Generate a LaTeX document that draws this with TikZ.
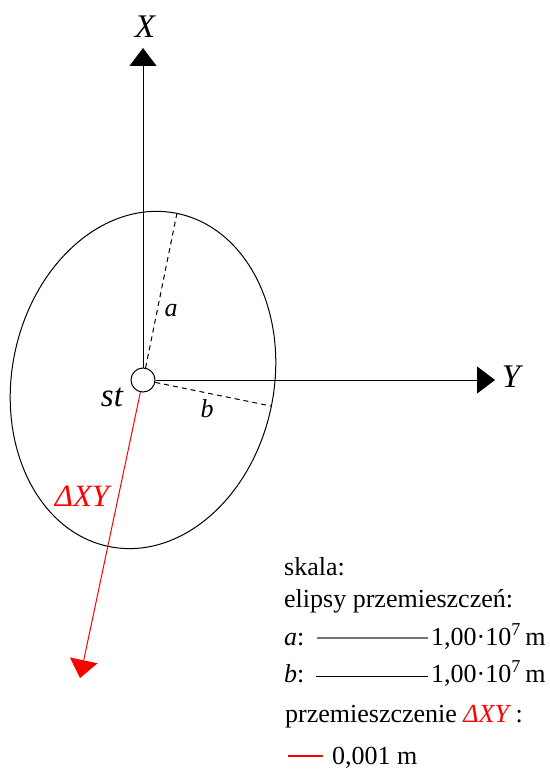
\documentclass[tikz,border=0pt]{standalone}
\usepackage{fontspec}
\setmainfont{Liberation Serif}
\usetikzlibrary{arrows.meta,calc}
\begin{document}
\begin{tikzpicture}[x=1pt,y=1pt,
  axis/.style={line width=1pt,-{Triangle[length=18pt,width=27pt]}},
  dispvec/.style={red,line width=1pt,-{Triangle[length=18pt,width=28pt]}},
  semiax/.style={line width=1pt,dash pattern=on 5pt off 4pt},
  lbl/.style={font=\fontsize{33}{38}\selectfont\itshape,inner sep=0pt},
  small/.style={font=\fontsize{26}{31}\selectfont,inner sep=0pt,anchor=base west},
  smalli/.style={font=\fontsize{26}{31}\selectfont\itshape,inner sep=0pt}]
\useasboundingbox (0,0) rectangle (549,-776);
\coordinate (c) at (143,-380);
% ellipse
\draw[line width=1pt,rotate around={-11.5:(c)}] (c) ellipse [x radius=131, y radius=170];
% station
\node[circle,draw,fill=white,line width=1pt,minimum size=24pt,inner sep=0pt] (st) at (c) {};
% axes
\coordinate (xtip) at (143,-48);
\coordinate (ytip) at (495,-380);
\draw[axis] (st.north) -- (xtip);
\draw[axis] (st.east) -- (ytip);
\node[lbl] (X) at (145,-27) {X};
\node[lbl] (Y) at (511,-377) {Y};
\node[lbl] (stl) at (112,-397) {st};
% semi-axes
\coordinate (ea) at ($(c)+(78.5:170)$);
\coordinate (eb) at ($(c)+(-11.5:131)$);
\draw[semiax] (st.78.5) -- (ea);
\draw[semiax] (st.-11.5) -- (eb);
\node[smalli] (al) at (171,-311) {a};
\node[smalli] (bl) at (207,-409) {b};
% displacement
\coordinate (dtip) at (80,-678);
\draw[dispvec] (st.-102) -- (dtip);
\node[lbl,red,font=\fontsize{31}{36}\selectfont\itshape] (dl) at (82,-496) {ΔXY};
% legend
\node[small] (s1) at (284,-575) {skala:};
\node[small] (s2) at (284,-607) {elipsy przemieszczeń:};
\node[small,font=\fontsize{26}{31}\selectfont\itshape] (sa) at (284,-645) {a\upshape:};
\coordinate (la1) at (317,-638);
\coordinate (la2) at (428,-638);
\draw[gray!90!black,line width=1.6pt] (la1) -- (la2);
\node[small] (va) at (431,-645) {1,00·10\textsuperscript{7}\,m};
\node[small,font=\fontsize{26}{31}\selectfont\itshape] (sb) at (284,-682) {b\upshape:};
\coordinate (lb1) at (316,-676);
\coordinate (lb2) at (428,-676);
\draw[line width=1pt] (lb1) -- (lb2);
\node[small] (vb) at (431,-682) {1,00·10\textsuperscript{7}\,m};
\node[small] (s3) at (285,-722) {przemieszczenie \textcolor{red}{\itshape ΔXY} :};
\coordinate (lr1) at (288,-756);
\coordinate (lr2) at (323,-756);
\draw[red,line width=1.2pt] (lr1) -- (lr2);
\node[small] (vr) at (332,-764) {0,001 m};
\end{tikzpicture}
\end{document}
